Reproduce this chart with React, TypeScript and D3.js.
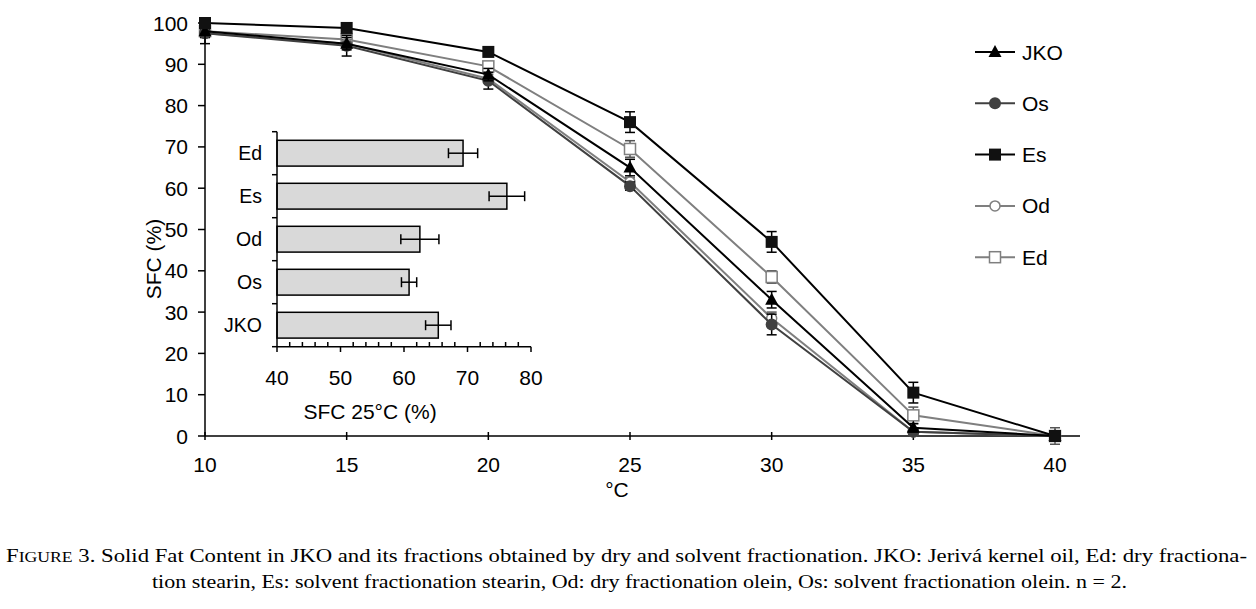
import * as d3 from "d3";

const temps = [10, 15, 20, 25, 30, 35, 40];
const jko = [98, 95, 87.5, 65, 33, 2, 0];
const os = [97.5, 94.5, 86, 60.5, 27, 1, 0];
const es = [100, 98.8, 93, 76, 47, 10.5, 0];
const od = [97.5, 95, 86.5, 61.5, 28.5, 1, 0];
const ed = [98, 96, 89.5, 69.5, 38.5, 5, 0];

const jkoErr = [3, 1.5, 1.5, 2, 2, 1, 1];
const osErr = [1, 2.5, 2, 1, 2.5, 0.5, 1];
const esErr = [0.5, 0.5, 1, 2.5, 2.5, 2.5, 0.5];
const odErr = [1, 1, 1, 1, 1.5, 0.5, 2];
const edErr = [1, 1, 1, 2, 1.5, 2, 1];

const yTicks = [0, 10, 20, 30, 40, 50, 60, 70, 80, 90, 100];

const barCats = ["Ed", "Es", "Od", "Os", "JKO"];
const barVals = [69.3, 76.2, 62.5, 60.8, 65.4];
const barErr = [2.3, 2.8, 3, 1.2, 2];
const insetTicks = [40, 50, 60, 70, 80];

type Series = {
  name: string;
  values: number[];
  errs: number[];
  line: string;
  marker: "triangle" | "circle" | "square" | "ocircle" | "osquare";
  color: string;
};

const series: Series[] = [
  { name: "Ed", values: ed, errs: edErr, line: "#7f7f7f", marker: "osquare", color: "#7f7f7f" },
  { name: "Od", values: od, errs: odErr, line: "#7f7f7f", marker: "ocircle", color: "#7f7f7f" },
  { name: "Os", values: os, errs: osErr, line: "#404040", marker: "circle", color: "#404040" },
  { name: "JKO", values: jko, errs: jkoErr, line: "#000", marker: "triangle", color: "#000" },
  { name: "Es", values: es, errs: esErr, line: "#000", marker: "square", color: "#111" },
];
const legendOrder = ["JKO", "Os", "Es", "Od", "Ed"];

function Marker({ kind, cx, cy, color }: { kind: Series["marker"]; cx: number; cy: number; color: string }) {
  switch (kind) {
    case "triangle":
      return <path d={`M${cx},${cy - 7}L${cx + 6.5},${cy + 5}L${cx - 6.5},${cy + 5}Z`} fill={color} />;
    case "circle":
      return <circle cx={cx} cy={cy} r={6} fill={color} />;
    case "square":
      return <rect x={cx - 6} y={cy - 6} width={12} height={12} fill={color} />;
    case "ocircle":
      return <circle cx={cx} cy={cy} r={5} fill="white" stroke={color} strokeWidth={1.5} />;
    case "osquare":
      return <rect x={cx - 5.5} y={cy - 5.5} width={11} height={11} fill="white" stroke={color} strokeWidth={1.5} />;
  }
}

export default function App() {
  const x = d3.scaleLinear().domain([10, 40]).range([205, 1055]);
  const y = d3.scaleLinear().domain([0, 100]).range([436, 23]);
  const line = d3
    .line<number>()
    .x((_, i) => x(temps[i]))
    .y(d => y(d));

  const xi = d3.scaleLinear().domain([40, 80]).range([277, 531]);
  const yi = d3.scaleBand<string>().domain(barCats).range([131.7, 346.7]).paddingInner(0.4).paddingOuter(0.2);
  const minor = d3.range(40, 81, 2).filter(v => v % 10 !== 0);
  const mid = (c: string) => yi(c)! + yi.bandwidth() / 2;

  const font = "'Liberation Sans', Arial, sans-serif";

  return (
    <svg width={1256} height={609} style={{ position: "absolute", left: 0, top: 0, background: "white" }} fontFamily={font}>
      {/* main axes */}
      <g stroke="#000" strokeWidth={1.5}>
        <line x1={205} x2={205} y1={y(100)} y2={y(0)} />
        <line x1={205} x2={1080} y1={y(0)} y2={y(0)} />
        {yTicks.map(t => (
          <line key={t} x1={198} x2={205} y1={y(t)} y2={y(t)} />
        ))}
        {temps.map(t => (
          <line key={t} x1={x(t)} x2={x(t)} y1={y(0) - 4} y2={y(0) + 4} />
        ))}
      </g>
      <g fontSize={21} fill="#000">
        {yTicks.map(t => (
          <text key={t} x={188} y={y(t)} dy="0.36em" textAnchor="end">{t}</text>
        ))}
        {temps.map(t => (
          <text key={t} x={x(t)} y={472} textAnchor="middle">{t}</text>
        ))}
        <text x={617} y={497} textAnchor="middle">°C</text>
        <text transform="translate(161,259) rotate(-90)" textAnchor="middle">SFC (%)</text>
      </g>

      {/* series */}
      {series.map(s => (
        <g key={s.name}>
          <path d={line(s.values) ?? undefined} fill="none" stroke={s.line} strokeWidth={2} />
          {s.values.map((v, i) => (
            <g key={i} stroke={s.color === "#7f7f7f" ? "#555" : "#000"} strokeWidth={1.5}>
              <line x1={x(temps[i])} x2={x(temps[i])} y1={y(v - s.errs[i])} y2={y(v + s.errs[i])} />
              <line x1={x(temps[i]) - 5} x2={x(temps[i]) + 5} y1={y(v - s.errs[i])} y2={y(v - s.errs[i])} />
              <line x1={x(temps[i]) - 5} x2={x(temps[i]) + 5} y1={y(v + s.errs[i])} y2={y(v + s.errs[i])} />
            </g>
          ))}
          {s.values.map((v, i) => (
            <Marker key={i} kind={s.marker} cx={x(temps[i])} cy={y(v)} color={s.color} />
          ))}
        </g>
      ))}

      {/* legend */}
      {legendOrder.map((n, i) => {
        const s = series.find(d => d.name === n)!;
        const ly = 52 + i * 51.3;
        return (
          <g key={n}>
            <line x1={975} x2={1015} y1={ly} y2={ly} stroke={s.line} strokeWidth={2} />
            <Marker kind={s.marker} cx={995} cy={ly} color={s.color} />
            <text x={1022} y={ly} dy="0.36em" fontSize={21}>{n}</text>
          </g>
        );
      })}

      {/* inset bar chart */}
      <g>
        {barCats.map((c, i) => (
          <g key={c}>
            <rect x={xi(40)} y={yi(c)} width={xi(barVals[i]) - xi(40)} height={yi.bandwidth()} fill="#d9d9d9" stroke="#000" strokeWidth={1.5} />
            <g stroke="#000" strokeWidth={1.5}>
              <line x1={xi(barVals[i] - barErr[i])} x2={xi(barVals[i] + barErr[i])} y1={mid(c)} y2={mid(c)} />
              <line x1={xi(barVals[i] - barErr[i])} x2={xi(barVals[i] - barErr[i])} y1={mid(c) - 5} y2={mid(c) + 5} />
              <line x1={xi(barVals[i] + barErr[i])} x2={xi(barVals[i] + barErr[i])} y1={mid(c) - 5} y2={mid(c) + 5} />
            </g>
            <text x={262} y={mid(c)} dy="0.36em" textAnchor="end" fontSize={19.5}>{c}</text>
          </g>
        ))}
        <g stroke="#000" strokeWidth={1.5}>
          <line x1={xi(40)} x2={xi(40)} y1={131.7} y2={346.7} />
          <line x1={xi(40)} x2={xi(80)} y1={346.7} y2={346.7} />
          {d3.range(6).map(i => (
            <line key={i} x1={xi(40) - 5} x2={xi(40)} y1={131.7 + i * yi.step()} y2={131.7 + i * yi.step()} />
          ))}
          {insetTicks.map(t => (
            <line key={t} x1={xi(t)} x2={xi(t)} y1={346.7} y2={352} />
          ))}
          {minor.map(t => (
            <line key={t} x1={xi(t)} x2={xi(t)} y1={342} y2={346.7} />
          ))}
        </g>
        {insetTicks.map(t => (
          <text key={t} x={xi(t)} y={377} dy="0.36em" textAnchor="middle" fontSize={21}>{t}</text>
        ))}
        <text x={370} y={411} dy="0.36em" textAnchor="middle" fontSize={21}>SFC 25°C (%)</text>
      </g>

      {/* caption */}
      <g fontFamily="'Liberation Serif', 'Times New Roman', serif" fontSize={18} fill="#000">
        <text x={6} y={562} textLength={1241} lengthAdjust="spacingAndGlyphs">
          F<tspan fontSize={14}>IGURE</tspan> 3. Solid Fat Content in JKO and its fractions obtained by dry and solvent fractionation. JKO: Jerivá kernel oil, Ed: dry fractiona-
        </text>
        <text x={152} y={588} textLength={975} lengthAdjust="spacingAndGlyphs">
          tion stearin, Es: solvent fractionation stearin, Od: dry fractionation olein, Os: solvent fractionation olein. n = 2.
        </text>
      </g>
    </svg>
  );
}
